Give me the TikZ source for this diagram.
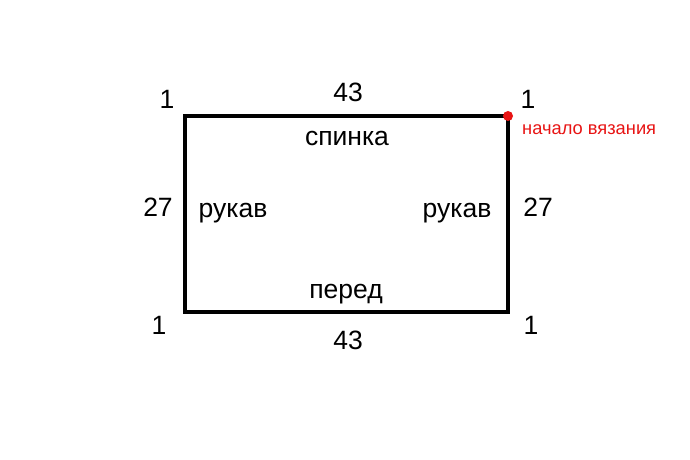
\documentclass[tikz,border=0pt]{standalone}
\usepackage{fontspec}
\setmainfont{Liberation Sans}
\definecolor{startred}{RGB}{232,20,20}
\tikzset{
  lbl/.style={font=\fontsize{26.5}{30}\selectfont, inner sep=0pt, anchor=base},
  small/.style={font=\fontsize{18.3}{22}\selectfont, inner sep=0pt, text=startred, anchor=base west},
  edge/.style={line width=3.5pt, black},
}
\begin{document}
\begin{tikzpicture}[x=1pt,y=1pt]
\fill[white] (0,0) rectangle (690,460);
\useasboundingbox (0,0) rectangle (690,460);
% corners (y = 460 - pixel y)
\coordinate (tl) at (185,344);
\coordinate (tr) at (508,344);
\coordinate (br) at (508,148);
\coordinate (bl) at (185,148);
\draw[edge, line join=miter] (tl) -- (tr) -- (br) -- (bl) -- cycle;
\fill[startred] (tr) circle (5);
% labels
\node[lbl] (c1) at (167,351) {1};
\node[lbl] (top) at (348,358.5) {43};
\node[lbl] (c2) at (528,351) {1};
\node[lbl] (back) at (347,314) {спинка};
\node[lbl] (lnum) at (158,243) {27};
\node[lbl] (lsl) at (233,242) {рукав};
\node[lbl] (rsl) at (457,242) {рукав};
\node[lbl] (rnum) at (538,243) {27};
\node[lbl] (front) at (346,161) {перед};
\node[lbl] (c3) at (159,125) {1};
\node[lbl] (bot) at (348,110.5) {43};
\node[lbl] (c4) at (531,125) {1};
\node[small] (start) at (522,325) {начало вязания};
\end{tikzpicture}
\end{document}
